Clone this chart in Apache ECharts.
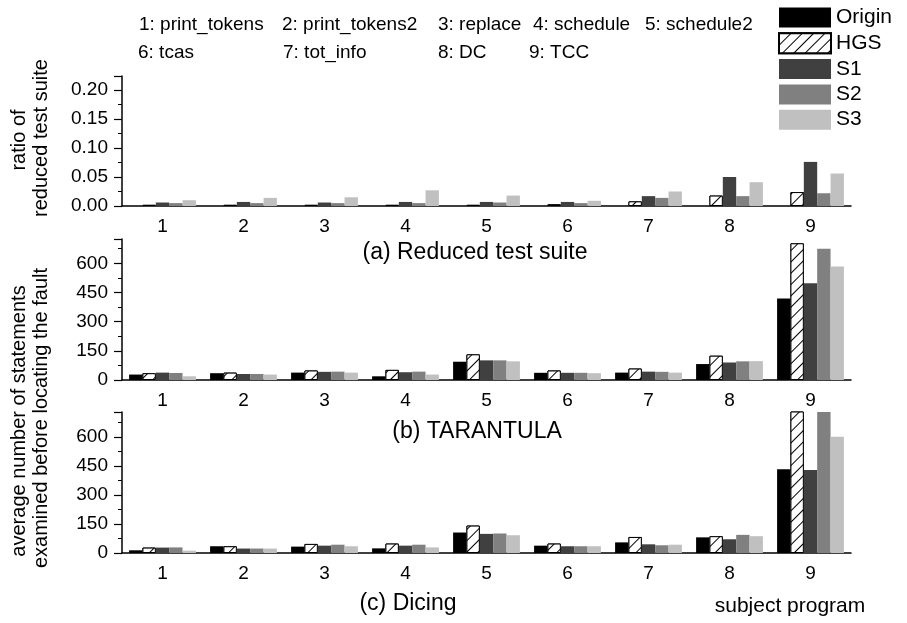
<!DOCTYPE html>
<html>
<head>
<meta charset="utf-8">
<script src="https://cdn.jsdelivr.net/npm/echarts@6/dist/echarts.min.js"></script>
<style>html,body{margin:0;padding:0;background:#fff;}#c{width:907px;height:623px;}</style>
</head>
<body>
<div id="c"></div>
<script>
const categories = ['1','2','3','4','5','6','7','8','9'];
const seriesNames = ['Origin','HGS','S1','S2','S3'];
const programLabels = ['1: print_tokens','2: print_tokens2','3: replace','4: schedule','5: schedule2','6: tcas','7: tot_info','8: DC','9: TCC'];

// (a) ratio of reduced test suite
const reducedOrigin = [0,0,0,0,0,0,0,0,0];
const reducedHGS = [0.002,0.002,0.002,0.002,0.002,0.003,0.008,0.018,0.024];
const reducedS1 = [0.006,0.007,0.006,0.007,0.007,0.007,0.017,0.050,0.076];
const reducedS2 = [0.005,0.005,0.005,0.005,0.006,0.005,0.014,0.017,0.022];
const reducedS3 = [0.010,0.014,0.015,0.027,0.018,0.009,0.025,0.041,0.056];

// (b) TARANTULA
const tarOrigin = [28,35,38,19,94,37,38,82,419];
const tarHGS = [35,38,49,52,132,49,59,125,703];
const tarS1 = [38,31,42,40,101,37,43,90,497];
const tarS2 = [36,31,43,43,101,37,42,96,675];
const tarS3 = [19,28,38,28,96,35,38,97,584];

// (c) Dicing
const dicOrigin = [14,35,33,24,106,38,55,81,434];
const dicHGS = [28,35,47,49,142,49,83,87,745];
const dicS1 = [28,23,38,38,99,35,45,71,430];
const dicS2 = [29,23,43,43,101,35,40,94,745];
const dicS3 = [12,23,35,29,92,35,43,87,602];

const FONT = "'Liberation Sans', Arial, sans-serif";
const colors = {Origin:'#000000', HGS:'#ffffff', S1:'#404040', S2:'#808080', S3:'#c0c0c0'};
const hatch = {symbol:'rect', symbolSize:1, dashArrayX:[1,0], dashArrayY:[1,7], rotation:-Math.PI/4, color:'#000000', backgroundColor:'#ffffff'};

const grids = [
  {left:122, right:56, top:76, height:130},
  {left:122, right:56, top:239, height:141},
  {left:122, right:56, top:412, height:141}
];
const yMax = [0.224, 725, 730];
const yInterval = [0.05, 150, 150];
const panels = [
  [reducedOrigin, reducedHGS, reducedS1, reducedS2, reducedS3],
  [tarOrigin, tarHGS, tarS1, tarS2, tarS3],
  [dicOrigin, dicHGS, dicS1, dicS2, dicS3]
];

const xAxis = [], yAxis = [], series = [];
grids.forEach((g, i) => {
  xAxis.push({
    type:'category', gridIndex:i, data:categories,
    axisLine:{lineStyle:{color:'#000', width:1.5}},
    axisTick:{alignWithLabel:true, length:8, lineStyle:{color:'#000', width:1.5}},
    axisLabel:{color:'#000', fontSize:19, fontFamily:FONT, margin:11}
  });
  xAxis.push({
    type:'category', gridIndex:i, data:categories, position:'bottom',
    axisLine:{show:false},
    axisTick:{alignWithLabel:false, length:4, lineStyle:{color:'#000', width:1.2}},
    axisLabel:{show:false}
  });
  yAxis.push({
    type:'value', gridIndex:i, min:0, max:yMax[i], interval:yInterval[i],
    axisLine:{show:true, lineStyle:{color:'#000', width:1.5}},
    axisTick:{show:true, length:8, lineStyle:{color:'#000', width:1.2}},
    minorTick:{show:true, splitNumber:2, length:4, lineStyle:{color:'#000', width:1}},
    splitLine:{show:false},
    axisLabel:{color:'#000', fontSize:19, fontFamily:FONT, margin:14,
      showMaxLabel:false,
      formatter: i===0 ? (v)=>v.toFixed(2) : (v)=>String(v)}
  });
  panels[i].forEach((vals, k) => {
    const name = seriesNames[k];
    const style = {color:colors[name]};
    if (name === 'HGS') { style.borderColor = '#000'; style.borderWidth = 1; style.decal = hatch; }
    series.push({
      type:'bar', name:name, xAxisIndex:i*2, yAxisIndex:i, data:vals,
      barWidth:'16.5%', barGap:'0%', clip:true, itemStyle:style, animation:false
    });
  });
});

const texts = [];
const lbl = (x, y, t, opt) => texts.push({type:'text', x:x, y:y,
  style:Object.assign({text:t, fill:'#000', font:'19px ' + FONT, textVerticalAlign:'middle'}, opt || {})});
const progX = [139,282,438,533,645,138,283,438,529];
programLabels.forEach((t, j) => lbl(progX[j], j < 5 ? 25 : 53, t));
lbl(475, 253, '(a) Reduced test suite', {font:'23px ' + FONT, textAlign:'center'});
lbl(477, 432, '(b) TARANTULA', {font:'23px ' + FONT, textAlign:'center'});
lbl(408, 604, '(c) Dicing', {font:'23px ' + FONT, textAlign:'center'});
lbl(790, 606, 'subject program', {font:'21px ' + FONT, textAlign:'center'});
const vlbl = (x, y, t) => texts.push({type:'text', x:x, y:y, rotation:Math.PI/2,
  style:{text:t, fill:'#000', font:'20px ' + FONT, textAlign:'center', textVerticalAlign:'middle'}});
vlbl(19, 140, 'ratio of');
vlbl(41, 138, 'reduced test suite');
vlbl(19, 421, 'average number of statements');
vlbl(41, 418, 'examined before locating the fault');

const chart = echarts.init(document.getElementById('c'), null, {renderer:'canvas'});
chart.setOption({
  backgroundColor:'#fff',
  animation:false,
  aria:{enabled:false},
  grid:grids,
  xAxis:xAxis,
  yAxis:yAxis,
  legend:{
    data:seriesNames, orient:'vertical', left:778, top:7, padding:0,
    itemWidth:52, itemHeight:20, itemGap:4.3, icon:'rect',
    textStyle:{color:'#000', fontSize:21, fontFamily:FONT, lineHeight:20}
  },
  graphic:texts,
  series:series
});
</script>
</body>
</html>
